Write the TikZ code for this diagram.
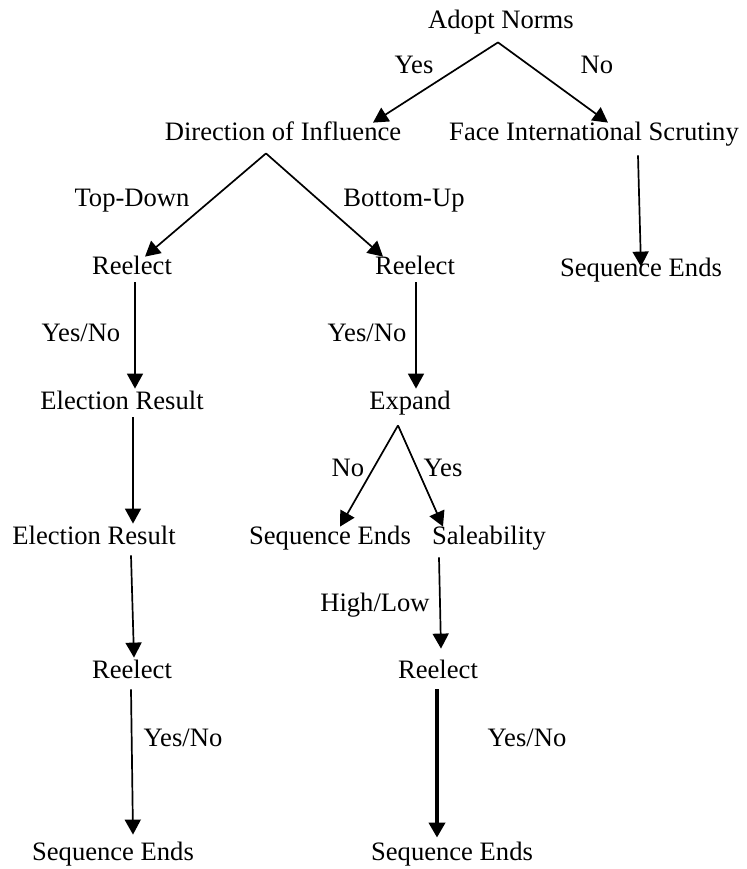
\documentclass[tikz,border=0pt]{standalone}
\usepackage{fontspec}
\setmainfont{Liberation Serif}
\usetikzlibrary{arrows.meta}
\tikzset{>={Triangle[length=7.5pt,width=8pt]},
  lbl/.style={inner sep=1pt,text height=9pt,text depth=3pt},
  arr/.style={->,line width=0.85pt}}

\begin{document}
\begin{tikzpicture}[x=0.5pt,y=-0.5pt,font=\fontsize{13.3}{15}\selectfont]
\useasboundingbox (0,0) rectangle (746,869);

% ============ top split ============
\node[lbl] (adopt) at (501,22) {Adopt Norms};
\node[lbl] (dir) at (283,134) {Direction of Influence};
\node[lbl] (face) at (594,134) {Face International Scrutiny};
\node[lbl] (seqR) at (641,270) {Sequence Ends};
\node[lbl] (yesA) at (414,67) {Yes};
\node[lbl] (noA) at (597,67) {No};
\draw[arr] ([shift={(-1.5pt,-3pt)}]adopt.south) -- ([shift={(45pt,-1.5pt)}]dir.north);
\draw[arr] ([shift={(-1.5pt,-3pt)}]adopt.south) -- ([shift={(7pt,-1.5pt)}]face.north);
\draw[arr] ([shift={(22pt,-3.5pt)}]face.south) -- ([yshift=-5.5pt]seqR.north);

% ============ direction of influence ============
\node[lbl] (td) at (132,200) {Top-Down};
\node[lbl] (bu) at (404,200) {Bottom-Up};
\node[lbl] (reL) at (132,268) {Reelect};
\node[lbl] (reR) at (415,268) {Reelect};
\draw[arr] ([shift={(-8.5pt,-2.5pt)}]dir.south) -- ([shift={(6.5pt,-1.5pt)}]reL.north);
\draw[arr] ([shift={(-8.5pt,-2.5pt)}]dir.south) -- ([shift={(-16pt,-1.5pt)}]reR.north);

% ============ top-down branch ============
\node[lbl] (ynL) at (81,335) {Yes/No};
\node[lbl] (erL) at (122,403) {Election Result};
\node[lbl] (erL2) at (94,538) {Election Result};
\node[lbl] (reL2) at (132,672) {Reelect};
\node[lbl] (ynL2) at (183,740) {Yes/No};
\node[lbl] (seqL) at (113,854) {Sequence Ends};
\draw[arr] ([xshift=1.5pt]reL.south) -- ([xshift=6.5pt]erL.north);
\draw[arr] ([xshift=5.5pt]erL.south) -- ([xshift=19.5pt]erL2.north);
\draw[arr] ([shift={(18.5pt,-1.5pt)}]erL2.south) -- ([xshift=1pt]reL2.north);
\draw[arr] ([shift={(-0.5pt,-1.5pt)}]reL2.south) -- ([shift={(10pt,2.5pt)}]seqL.north);

% ============ bottom-up branch ============
\node[lbl] (ynR) at (367,335) {Yes/No};
\node[lbl] (expand) at (410,403) {Expand};
\node[lbl] (noE) at (348,470) {No};
\node[lbl] (yesE) at (443,470) {Yes};
\node[lbl] (seqM) at (330,538) {Sequence Ends};
\node[lbl] (sale) at (489,538) {Saleability};
\node[lbl] (hl) at (375,605) {High/Low};
\node[lbl] (reR2) at (438,672) {Reelect};
\node[lbl] (ynR2) at (527,740) {Yes/No};
\node[lbl] (seqB) at (452,854) {Sequence Ends};
\draw[arr] ([xshift=0.5pt]reR.south) -- ([xshift=3pt]expand.north);
\draw[arr] ([shift={(-6pt,-4pt)}]expand.south) -- ([shift={(5pt,-1.5pt)}]seqM.north);
\draw[arr] ([shift={(-6pt,-4pt)}]expand.south) -- ([shift={(-23pt,-1.5pt)}]sale.north);
\draw[arr] ([shift={(-25pt,-2.5pt)}]sale.south) -- ([shift={(1.5pt,4.5pt)}]reR2.north);
\draw[arr,line width=2pt] ([shift={(-0.5pt,-1.5pt)}]reR2.south) -- ([shift={(-7.5pt,1pt)}]seqB.north);

\end{tikzpicture}
\end{document}
